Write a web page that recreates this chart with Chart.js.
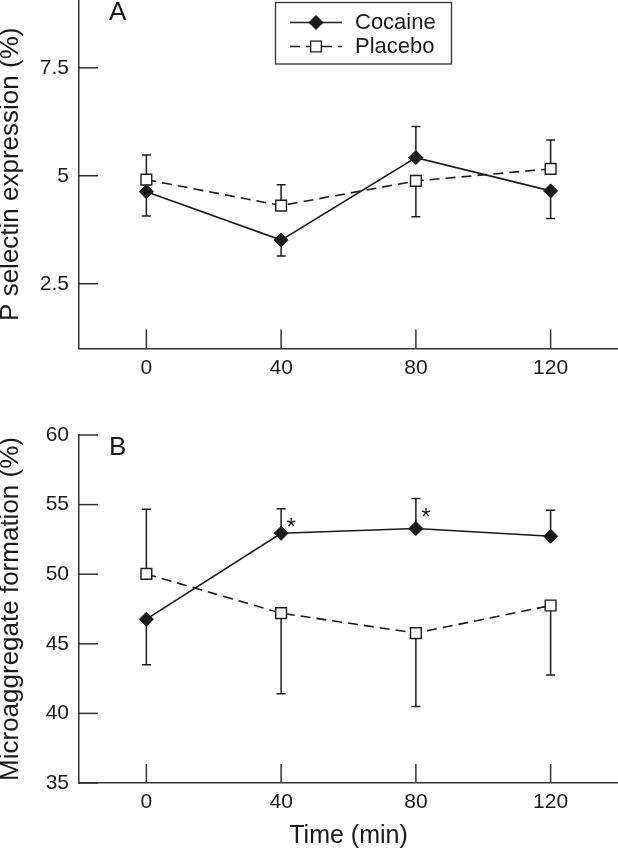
<!DOCTYPE html>
<html>
<head>
<meta charset="utf-8">
<script src="https://cdn.jsdelivr.net/npm/chart.js@4/dist/chart.umd.min.js"></script>
<style>
  html, body { margin: 0; padding: 0; background: #fff; }
  #wrap { position: relative; width: 618px; height: 853px; }
  .panel { position: absolute; left: 0; width: 618px; }
  #panelA { top: 0; height: 396px; }
  #panelB { top: 400px; height: 453px; }
</style>
</head>
<body>
<div id="wrap">
  <div class="panel" id="panelA"><canvas id="chartA"></canvas></div>
  <div class="panel" id="panelB"><canvas id="chartB"></canvas></div>
</div>
<script>
// Time points (min)
const times = [0, 40, 80, 120]
const xTicks = [0, 40, 80, 120]

// Panel A - P selectin expression (%)
const selectinTicks = [2.5, 5, 7.5]
const selectinCocaine = [4.63, 3.51, 5.42, 4.65]
const selectinCocaineErr = [4.07, 3.14, 6.14, 4.01] // end of one sided error bar
const selectinPlacebo = [4.91, 4.31, 4.88, 5.16]
const selectinPlaceboErr = [5.48, 4.79, 4.05, 5.83]

// Panel B - Microaggregate formation (%)
const microTicks = [35, 40, 45, 50, 55, 60]
const microCocaine = [46.77, 52.94, 53.28, 52.73]
const microCocaineErr = [43.5, 54.71, 55.43, 54.59]
const microPlacebo = [50.02, 47.2, 45.77, 47.75]
const microPlaceboErr = [54.67, 41.41, 40.5, 42.75]
const microStars = ["", "*", "*", ""]

const seriesNames = ["Cocaine", "Placebo"]

const ink = "#1a1a1a"
const axisColor = "#333"
const fontFamily = "'Liberation Sans', Arial, Helvetica, sans-serif"

function points(values) {
  return values.map((v, i) => ({ x: times[i], y: v }))
}

function cocaineDataset(values, errEnds, stars) {
  return {
    label: seriesNames[0],
    data: points(values),
    errEnd: errEnds,
    stars: stars || [],
    borderColor: ink,
    borderWidth: 1.6,
    pointStyle: "rectRot",
    pointRadius: 7,
    pointBackgroundColor: ink,
    pointBorderColor: ink,
    pointBorderWidth: 1,
    tension: 0,
  }
}

function placeboDataset(values, errEnds) {
  return {
    label: seriesNames[1],
    data: points(values),
    errEnd: errEnds,
    stars: [],
    borderColor: ink,
    borderWidth: 1.6,
    borderDash: [10, 6],
    pointStyle: "rect",
    pointRadius: 7.6,
    pointBackgroundColor: "#fff",
    pointBorderColor: ink,
    pointBorderWidth: 1.4,
    tension: 0,
  }
}

// One sided error bars, inward tick marks, asterisks and panel letter
const decorPlugin = {
  id: "decor",
  beforeDatasetsDraw(chart) {
    const { ctx, scales: { x, y } } = chart
    ctx.save()
    ctx.strokeStyle = axisColor
    ctx.lineWidth = 1.5
    // inward tick marks
    x.ticks.forEach((t) => {
      const px = x.getPixelForValue(t.value)
      ctx.beginPath()
      ctx.moveTo(px, chart.chartArea.bottom)
      ctx.lineTo(px, chart.chartArea.bottom - 19)
      ctx.stroke()
    })
    y.ticks.forEach((t) => {
      const py = y.getPixelForValue(t.value)
      ctx.beginPath()
      ctx.moveTo(chart.chartArea.left, py)
      ctx.lineTo(chart.chartArea.left + 19, py)
      ctx.stroke()
    })
    // error bars
    ctx.strokeStyle = ink
    chart.data.datasets.forEach((ds) => {
      ds.data.forEach((p, i) => {
        const px = x.getPixelForValue(p.x)
        const py = y.getPixelForValue(p.y)
        const pe = y.getPixelForValue(ds.errEnd[i])
        ctx.beginPath()
        ctx.moveTo(px, py)
        ctx.lineTo(px, pe)
        ctx.moveTo(px - 4.5, pe)
        ctx.lineTo(px + 4.5, pe)
        ctx.stroke()
      })
    })
    ctx.restore()
  },
  afterDatasetsDraw(chart) {
    const { ctx, scales: { x, y } } = chart
    ctx.save()
    ctx.fillStyle = ink
    ctx.font = "24px " + fontFamily
    ctx.textAlign = "center"
    ctx.textBaseline = "alphabetic"
    // asterisks sit just right of the error bar, below its cap
    chart.data.datasets.forEach((ds) => {
      ds.stars.forEach((s, i) => {
        if (!s) return
        const px = x.getPixelForValue(ds.data[i].x)
        const pe = y.getPixelForValue(ds.errEnd[i])
        ctx.fillText(s, px + 10, pe + 26)
      })
    })
    const letter = chart.options.plugins.decor.letter
    ctx.font = "26px " + fontFamily
    ctx.textAlign = "left"
    ctx.fillText(letter, 109, chart.options.plugins.decor.letterY)
    ctx.restore()
  },
}

// Legend box drawn with the dataset styles (line with marker in the middle)
const legendPlugin = {
  id: "boxLegend",
  afterDraw(chart) {
    if (!chart.options.plugins.boxLegend.show) return
    const { ctx } = chart
    ctx.save()
    ctx.strokeStyle = axisColor
    ctx.lineWidth = 1.3
    ctx.strokeRect(275.5, 2.5, 176, 61.5)
    chart.data.datasets.forEach((ds, i) => {
      const ly = 22.5 + i * 24
      ctx.strokeStyle = ds.borderColor
      ctx.lineWidth = ds.borderWidth
      ctx.setLineDash(ds.borderDash || [])
      ctx.beginPath()
      ctx.moveTo(290, ly)
      ctx.lineTo(342, ly)
      ctx.stroke()
      ctx.setLineDash([])
      ctx.fillStyle = ds.pointBackgroundColor
      ctx.strokeStyle = ds.pointBorderColor
      ctx.lineWidth = ds.pointBorderWidth
      Chart.helpers.drawPoint(ctx, {
        pointStyle: ds.pointStyle,
        radius: ds.pointRadius,
        borderWidth: ds.pointBorderWidth,
        rotation: 0,
      }, 316, ly)
      ctx.fillStyle = ink
      ctx.font = "22px " + fontFamily
      ctx.textAlign = "left"
      ctx.textBaseline = "middle"
      ctx.fillText(ds.label, 355, ly)
    })
    ctx.restore()
  },
}

function panelOptions(cfg) {
  return {
    responsive: true,
    maintainAspectRatio: false,
    animation: false,
    layout: { autoPadding: false, padding: { top: cfg.padTop, right: 0, bottom: 0, left: 0 } },
    plugins: {
      legend: { display: false },
      tooltip: { enabled: false },
      decor: { letter: cfg.letter, letterY: cfg.letterY },
      boxLegend: { show: cfg.showLegend },
    },
    scales: {
      x: {
        type: "linear",
        min: -20,
        max: 140,
        afterBuildTicks: (scale) => { scale.ticks = xTicks.map((v) => ({ value: v })) },
        afterFit: (scale) => {
          scale.height = cfg.xHeight
          scale.paddingLeft = 0
          scale.paddingRight = 0
        },
        grid: { drawOnChartArea: false, drawTicks: false },
        border: { display: true, color: axisColor, width: 1.5 },
        ticks: { color: ink, padding: 7, maxRotation: 0, font: { size: 21, family: fontFamily } },
        title: {
          display: !!cfg.xTitle,
          text: cfg.xTitle || "",
          color: ink,
          padding: { top: 0, bottom: 2 },
          font: { size: 25, family: fontFamily },
        },
      },
      y: {
        type: "linear",
        min: cfg.yMin,
        max: cfg.yMax,
        afterBuildTicks: (scale) => { scale.ticks = cfg.yTicks.map((v) => ({ value: v })) },
        afterFit: (scale) => {
          scale.width = 79
          scale.paddingTop = 0
          scale.paddingBottom = 0
        },
        grid: { drawOnChartArea: false, drawTicks: false },
        border: { display: true, color: axisColor, width: 1.5 },
        ticks: {
          color: ink,
          padding: 10,
          font: { size: 21, family: fontFamily },
          callback: (v) => String(v),
        },
        title: {
          display: true,
          text: cfg.yTitle,
          color: ink,
          padding: { top: 0, bottom: 0 },
          font: { size: 26, family: fontFamily, lineHeight: 0.85 },
        },
      },
    },
  }
}

// Panel A chart
new Chart(document.getElementById("chartA"), {
  type: "line",
  data: {
    datasets: [
      cocaineDataset(selectinCocaine, selectinCocaineErr),
      placeboDataset(selectinPlacebo, selectinPlaceboErr),
    ],
  },
  options: panelOptions({
    yMin: 1, yMax: 9.07, yTicks: selectinTicks,
    yTitle: "P selectin expression (%)",
    xHeight: 47.5, padTop: 0,
    letter: "A", letterY: 20, showLegend: true,
  }),
  plugins: [decorPlugin, legendPlugin],
})

// Panel B chart
new Chart(document.getElementById("chartB"), {
  type: "line",
  data: {
    datasets: [
      cocaineDataset(microCocaine, microCocaineErr, microStars),
      placeboDataset(microPlacebo, microPlaceboErr),
    ],
  },
  options: panelOptions({
    yMin: 35, yMax: 60, yTicks: microTicks,
    yTitle: "Microaggregate formation (%)",
    xTitle: "Time (min)",
    xHeight: 70, padTop: 35,
    letter: "B", letterY: 55, showLegend: false,
  }),
  plugins: [decorPlugin, legendPlugin],
})
</script>
</body>
</html>
